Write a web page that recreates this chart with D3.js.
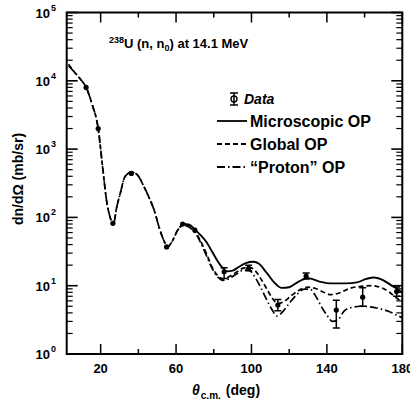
<!DOCTYPE html>
<html><head><meta charset="utf-8">
<script src="https://cdn.jsdelivr.net/npm/d3@7"></script>
<style>
body{margin:0;background:#fff}
text{font-family:"Liberation Sans",Arial,sans-serif;font-weight:bold;fill:#000}
</style>
</head><body>
<svg id="chart" width="410" height="401"></svg>
<script>
// ---- data (angle in degrees c.m., cross section in mb/sr) ----
const dataAngle = [12.3, 18.7, 26.5, 36.3, 55, 63.5, 70, 85.5, 98.5, 114, 129, 145, 159, 177];
const dataValue = [8000, 2000, 82, 440, 37, 80, 65, 16, 18, 5.2, 13.8, 4.4, 6.8, 8.2];
const dataLow   = [null, null, null, null, null, null, null, 12.8, 16.5, 4.3, 12.5, 2.4, 5.0, 7.0];
const dataHigh  = [null, null, null, null, null, null, null, 18.3, 20, 6.3, 15.3, 6.1, 9.3, 9.6];

const forwardAngle = [3, 6, 9, 12.3, 15.5, 18.7, 21, 23.3, 25.3, 26.7, 28.5, 30.5, 33, 36.5, 39.5, 42.5, 45.5, 48.5, 51, 53.5, 55.5, 58, 61];
const forwardValue = [16500, 13500, 10800, 8000, 4500, 2000, 560, 165, 95, 78, 140, 230, 400, 460, 420, 300, 200, 125, 72, 46, 37, 45, 66];

const microAngle = [62, 64, 67, 70, 73, 76, 79, 82, 85, 87, 90, 93, 97, 101, 104, 108, 112, 116, 120, 125, 130, 136, 143, 150, 156, 161, 165, 170, 174, 178, 180];
const microValue = [72, 80, 78, 66, 55, 44, 32, 23, 17.8, 16.2, 16.6, 18.6, 21.4, 22.4, 20.9, 15.5, 11.2, 9.3, 9.5, 11.5, 12.9, 11.5, 10.8, 10.8, 11.2, 12.6, 13.2, 12, 10.2, 8.7, 7.9];

const globalAngle = [64, 67, 70, 73, 76, 79, 82, 85, 88, 92, 96, 99, 102, 105, 108, 111, 114, 117, 121, 125, 130, 134, 138, 142, 147, 152, 158, 164, 169, 173, 177, 180];
const globalValue = [79, 76, 63, 45, 30, 19, 14.1, 12.6, 13.5, 15.8, 18.2, 18.6, 16.6, 12.6, 9.1, 6.6, 5.5, 5.8, 7.1, 8.5, 9.5, 9.1, 8.1, 7.4, 7.9, 9.1, 9.8, 10, 9.3, 8.1, 6.6, 5.8];

const protonAngle = [64, 67, 70, 73, 76, 79, 82, 85, 88, 92, 96, 99, 102, 105, 108, 111, 113.5, 116, 120, 124, 128, 131, 134, 137, 140, 143, 146, 149, 153, 158, 163, 168, 173, 177, 180];
const protonValue = [76, 72, 60, 43, 28, 18.2, 13.5, 12, 12.6, 14.8, 17, 16.6, 13.2, 9.3, 6.3, 4.4, 3.6, 4.0, 5.5, 7.4, 8.9, 8.9, 7.1, 5.0, 3.7, 3.0, 3.2, 4.2, 4.8, 5.0, 4.9, 4.6, 4.2, 3.7, 3.4];

const xTickValues = [20, 40, 60, 80, 100, 120, 140, 160, 180];
const xTickLabels = ["20", "", "60", "", "100", "", "140", "", "180"];
const yExponents = [0, 1, 2, 3, 4, 5];
const legendLabels = ["Data", "Microscopic OP", "Global OP", "\u201CProton\u201D OP"];
const titleParts = ["238", "U (n, n", "0", ") at 14.1 MeV"];

// ---- layout ----
const svg = d3.select("#chart");
const L = 66.7, R = 402.3, T = 12.5, B = 354;
const x = d3.scaleLinear().domain([2, 180]).range([L, R]);
const y = d3.scaleLog().domain([1, 1e5]).range([B, T]);

svg.append("defs").append("clipPath").attr("id", "clip")
  .append("rect").attr("x", L).attr("y", T).attr("width", R - L).attr("height", B - T);

const line = d3.line().x(d => x(d[0])).y(d => y(d[1])).curve(d3.curveMonotoneX);
const zip = (a, b) => a.map((v, i) => [v, b[i]]);

const g = svg.append("g").attr("clip-path", "url(#clip)");
const glob = zip(forwardAngle, forwardValue).map((d, i) => i === 0 ? [d[0], 17500] : d).concat(zip(globalAngle, globalValue));
const prot = zip(forwardAngle, forwardValue).concat(zip(protonAngle, protonValue));
g.append("path").attr("d", line(glob)).attr("fill", "none").attr("stroke", "#000")
  .attr("stroke-width", 1.7).attr("stroke-dasharray", "5,3");
g.append("path").attr("d", line(prot)).attr("fill", "none").attr("stroke", "#000")
  .attr("stroke-width", 1.7).attr("stroke-dasharray", "8,3,1.5,3");
g.append("path").attr("d", line(zip(microAngle, microValue))).attr("fill", "none")
  .attr("stroke", "#000").attr("stroke-width", 1.9);

// data points
dataAngle.forEach((a, i) => {
  const cx = x(a), cy = y(dataValue[i]);
  if (dataLow[i] !== null) {
    const y1 = y(dataLow[i]), y2 = y(dataHigh[i]);
    g.append("line").attr("x1", cx).attr("x2", cx).attr("y1", y1).attr("y2", y2).attr("stroke", "#000").attr("stroke-width", 1.5);
    [y1, y2].forEach(yy => g.append("line").attr("x1", cx - 3.5).attr("x2", cx + 3.5).attr("y1", yy).attr("y2", yy).attr("stroke", "#000").attr("stroke-width", 1.5));
  }
  g.append("circle").attr("cx", cx).attr("cy", cy).attr("r", 2.6).attr("fill", "#000");
});

// ---- axes ----
const ax = svg.append("g").attr("stroke", "#000").attr("fill", "none");
ax.append("rect").attr("x", L).attr("y", T).attr("width", R - L).attr("height", B - T).attr("stroke-width", 2);
xTickValues.forEach((v, i) => {
  const len = xTickLabels[i] ? 10 : 5;
  ax.append("line").attr("x1", x(v)).attr("x2", x(v)).attr("y1", B).attr("y2", B - len).attr("stroke-width", 1.5);
  ax.append("line").attr("x1", x(v)).attr("x2", x(v)).attr("y1", T).attr("y2", T + len).attr("stroke-width", 1.5);
});
const minor = [];
for (let e = 0; e < 5; e++) for (let m = 2; m <= 9; m++) minor.push(m * Math.pow(10, e));
minor.forEach(v => {
  ax.append("line").attr("x1", L).attr("x2", L + 6).attr("y1", y(v)).attr("y2", y(v)).attr("stroke-width", 1.2);
  ax.append("line").attr("x1", R).attr("x2", R - 6).attr("y1", y(v)).attr("y2", y(v)).attr("stroke-width", 1.2);
});
yExponents.forEach(e => {
  const v = Math.pow(10, e);
  ax.append("line").attr("x1", L).attr("x2", L + 11).attr("y1", y(v)).attr("y2", y(v)).attr("stroke-width", 1.6);
  ax.append("line").attr("x1", R).attr("x2", R - 11).attr("y1", y(v)).attr("y2", y(v)).attr("stroke-width", 1.6);
});

// tick labels
const xl = svg.append("g");
xTickValues.forEach((v, i) => {
  if (!xTickLabels[i]) return;
  xl.append("text").attr("x", x(v)).attr("y", 373).attr("text-anchor", "middle")
    .attr("font-size", 13).text(xTickLabels[i]);
});
yExponents.forEach(e => {
  const t = svg.append("text").attr("x", 50).attr("y", y(Math.pow(10, e)) + 5)
    .attr("text-anchor", "end").attr("font-size", 13).text("10");
  svg.append("text").attr("x", 51).attr("y", y(Math.pow(10, e)) - 2)
    .attr("font-size", 9).text(String(e));
});

// axis titles
svg.append("text").attr("transform", "translate(23,179) rotate(-90)").attr("text-anchor", "middle")
  .attr("font-size", 14).text("dn/d\u03A9 (mb/sr)");
const xt = svg.append("text").attr("x", 192).attr("y", 395).attr("font-size", 14);
xt.append("tspan").attr("font-style", "italic").text("\u03B8");
xt.append("tspan").attr("font-size", 10).attr("dy", 4).attr("dx", 1).text("c.m.");
xt.append("tspan").attr("dy", -4).attr("dx", 5).text("(deg)");

// annotation
const an = svg.append("text").attr("x", 109).attr("y", 48).attr("font-size", 13);
an.append("tspan").attr("font-size", 9).attr("dy", -5).text(titleParts[0]);
an.append("tspan").attr("dy", 5).text(titleParts[1]);
an.append("tspan").attr("font-size", 9).attr("dy", 3).text(titleParts[2]);
an.append("tspan").attr("dy", -3).text(titleParts[3]);

// legend
const lg = svg.append("g");
const ly = [99, 121, 144, 167];
// data symbol
lg.append("line").attr("x1", 234).attr("x2", 234).attr("y1", ly[0] - 6).attr("y2", ly[0] + 6).attr("stroke", "#000").attr("stroke-width", 1.5);
[ly[0] - 6, ly[0] + 6].forEach(yy => lg.append("line").attr("x1", 230).attr("x2", 238).attr("y1", yy).attr("y2", yy).attr("stroke", "#000").attr("stroke-width", 1.5));
lg.append("circle").attr("cx", 234).attr("cy", ly[0]).attr("r", 3).attr("fill", "none").attr("stroke", "#000").attr("stroke-width", 1.4);
lg.append("text").attr("x", 244).attr("y", ly[0] + 5).attr("font-size", 14).attr("font-style", "italic").text(legendLabels[0]);
const styles = [null, "none", "5,3", "8,3,1.5,3"];
for (let i = 1; i < 4; i++) {
  lg.append("line").attr("x1", 217).attr("x2", 247).attr("y1", ly[i]).attr("y2", ly[i])
    .attr("stroke", "#000").attr("stroke-width", 1.8).attr("stroke-dasharray", styles[i]);
  lg.append("text").attr("x", 250).attr("y", ly[i] + 5.5).attr("font-size", 16).text(legendLabels[i]);
}
</script>
</body></html>
